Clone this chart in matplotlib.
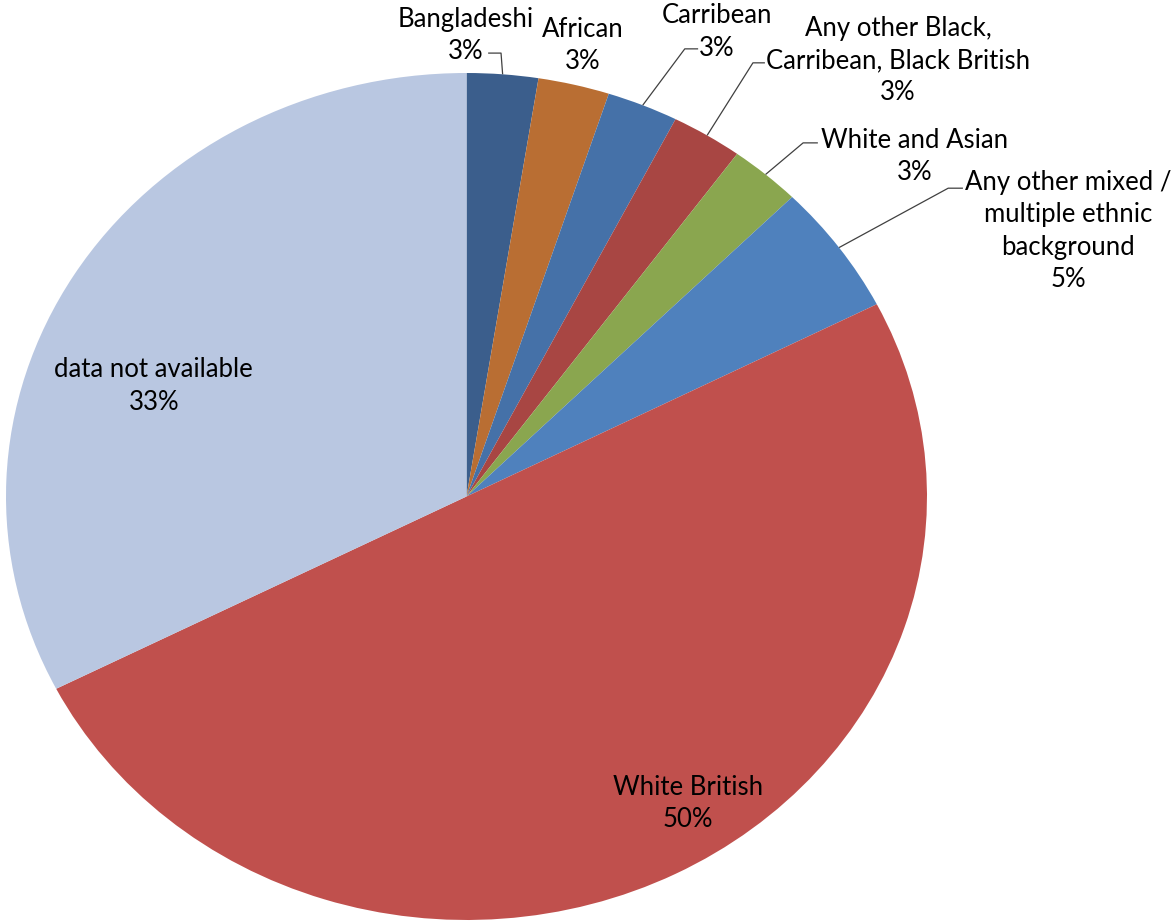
import matplotlib.pyplot as plt
import numpy as np

# ethnicity counts (40 people in total)
groups = ["Bangladeshi", "African", "Carribean",
          "Any other Black,\nCarribean, Black British", "White and Asian",
          "Any other mixed /\nmultiple ethnic\nbackground",
          "White British", "data not available"]
counts = [1, 1, 1, 1, 1, 2, 20, 13]
colors = ["#3B5E8C", "#B96E33", "#4571A8", "#A84643", "#8AA64F",
          "#4F81BD", "#C0504D", "#B9C7E1"]

# label centres and leader elbows (data coords, radius = 1)
label_pos = [(-0.001, 1.089), (0.253, 1.064), (0.544, 1.097), (0.937, 1.029),
             (0.974, 0.802), (1.306, 0.627), (0.481, -0.724), (-0.679, 0.261)]
# (elbow_x, elbow_y, tail_x) or None
leaders = [(0.075, 1.047, 0.047), None, (0.474, 1.057, 0.503),
           (0.622, 1.024, 0.648), (0.731, 0.835, 0.763),
           (1.046, 0.728, 1.078), None, None]

plt.rcParams['font.family'] = ['Lato', 'DejaVu Sans']

fig = plt.figure(figsize=(11.73, 9.21), dpi=100)
ax = fig.add_axes([6 / 1173, 1 / 921, 921 / 1173, 847 / 921])

wedges, _ = ax.pie(counts, colors=colors, startangle=90, counterclock=False,
                   radius=1, wedgeprops=dict(linewidth=0))
ax.set_aspect('auto')
ax.set_xlim(-1, 1)
ax.set_ylim(-1, 1)

total = sum(counts)
for i, w in enumerate(wedges):
    pct = int(counts[i] * 100 / total + 0.5)
    tx, ty = label_pos[i]
    ax.text(tx, ty, f"{groups[i]}\n{pct}%", ha='center', va='center',
            fontsize=18.5, color='black', linespacing=1.36, clip_on=False)
    if leaders[i] is not None:
        mid = np.deg2rad((w.theta1 + w.theta2) / 2)
        ex, ey = np.cos(mid), np.sin(mid)
        bx, by, cx = leaders[i]
        ax.plot([ex, bx, cx], [ey, by, by], color='#404040', lw=0.9,
                clip_on=False, solid_capstyle='butt')

fig.savefig("out.png", dpi=100)
